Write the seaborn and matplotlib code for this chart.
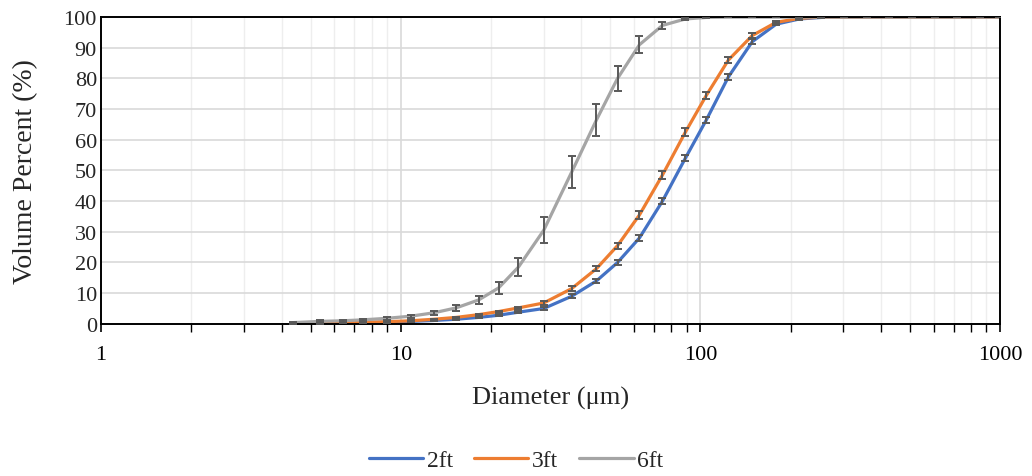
import numpy as np
import pandas as pd
import matplotlib.pyplot as plt
import seaborn as sns
from matplotlib.ticker import LogLocator, NullFormatter, FixedLocator

# ==================================================
# DATA
# ==================================================

diameter = [4.37, 5.37, 6.41, 7.47, 8.98, 10.8, 12.9, 15.3, 18.2, 21.2,
            24.7, 30.0, 37.2, 45.0, 52.9, 62.6, 74.7, 89.1, 104.7, 124,
            149, 179, 214, 253, 302, 360, 427, 509, 607, 719, 858, 993]

vol_2ft = [0.1, 0.15, 0.25, 0.35, 0.5, 0.8, 1.1, 1.5, 2.1, 2.8,
           3.8, 5.0, 9.0, 14.0, 20.0, 28.0, 40.0, 54.0, 66.5, 80.5,
           92.0, 97.7, 99.4, 99.9, 100, 100, 100, 100, 100, 100, 100, 100]
err_2ft = [0.05, 0.05, 0.05, 0.1, 0.1, 0.1, 0.15, 0.2, 0.2, 0.3,
           0.4, 0.5, 0.6, 0.7, 0.8, 0.9, 1.0, 1.0, 1.0, 0.9,
           0.8, 0.4, 0.2, 0.1, 0, 0, 0, 0, 0, 0, 0, 0]

vol_3ft = [0.1, 0.2, 0.3, 0.5, 0.7, 1.0, 1.5, 2.1, 3.0, 4.0,
           5.2, 6.8, 11.5, 18.0, 25.5, 35.5, 48.5, 62.5, 74.5, 86.0,
           94.0, 98.3, 99.6, 100, 100, 100, 100, 100, 100, 100, 100, 100]
err_3ft = [0.05, 0.05, 0.05, 0.1, 0.1, 0.15, 0.2, 0.2, 0.3, 0.3,
           0.4, 0.5, 0.7, 0.8, 1.0, 1.2, 1.4, 1.4, 1.2, 0.9,
           0.7, 0.4, 0.2, 0.1, 0, 0, 0, 0, 0, 0, 0, 0]

vol_6ft = [0.4, 0.8, 1.0, 1.3, 1.8, 2.5, 3.6, 5.2, 7.8, 11.7,
           18.5, 30.5, 49.5, 66.5, 80.0, 91.0, 97.3, 99.4, 99.9, 100,
           100, 100, 100, 100, 100, 100, 100, 100, 100, 100, 100, 100]
err_6ft = [0.3, 0.3, 0.3, 0.3, 0.4, 0.5, 0.6, 1.1, 1.4, 1.9,
           3.0, 4.2, 5.2, 5.2, 4.2, 2.7, 1.1, 0.4, 0.1, 0,
           0, 0, 0, 0, 0, 0, 0, 0, 0, 0, 0, 0]

series_names = ["2ft", "3ft", "6ft"]
colors = ["#4472C4", "#ED7D31", "#A5A5A5"]

df = pd.DataFrame({
    "Diameter": diameter * 3,
    "Volume": vol_2ft + vol_3ft + vol_6ft,
    "Error": err_2ft + err_3ft + err_6ft,
    "Series": [s for s in series_names for _ in diameter],
})

# ==================================================
# PLOT
# ==================================================

sns.set_theme(style="white")
plt.rcParams["font.family"] = ["Liberation Serif", "DejaVu Serif"]

fig = plt.figure(figsize=(10.32, 4.77), dpi=100)
ax = fig.add_axes([0.098, 0.319, 0.871, 0.643])

sns.lineplot(
    data=df,
    x="Diameter",
    y="Volume",
    hue="Series",
    palette=colors,
    linewidth=2.3,
    ax=ax,
    legend=True,
    zorder=2,
)

for name in series_names:
    sub = df[df["Series"] == name]
    ax.errorbar(
        sub["Diameter"],
        sub["Volume"],
        yerr=sub["Error"],
        fmt="none",
        ecolor="#595959",
        elinewidth=1.4,
        capsize=3.2,
        capthick=1.4,
        zorder=3,
    )

ax.set_xscale("log")
ax.set_xlim(1, 1000)
ax.set_ylim(0, 100)
ax.set_yticks(range(0, 101, 10))
ax.xaxis.set_major_locator(FixedLocator([1, 10, 100, 1000]))
ax.set_xticklabels(["1", "10", "100", "1000"])
ax.xaxis.set_minor_locator(LogLocator(base=10, subs=np.arange(2, 10)))
ax.xaxis.set_minor_formatter(NullFormatter())

ax.grid(which="major", axis="both", color="#d9d9d9", linewidth=1.2)
ax.grid(which="minor", axis="x", color="#eeeeee", linewidth=1.0)
ax.set_axisbelow(True)

for side in ["left", "bottom", "top", "right"]:
    ax.spines[side].set_color("black")
    ax.spines[side].set_linewidth(1.4)
    ax.spines[side].set_visible(True)

ax.tick_params(axis="x", which="both", direction="out", bottom=True,
               colors="black", labelsize=16, pad=9)
ax.tick_params(axis="x", which="major", length=6, width=1.2)
ax.tick_params(axis="x", which="minor", length=6, width=1.0)
ax.tick_params(axis="y", left=False, length=0, labelsize=16, pad=3)

ax.set_xlabel("Diameter (\u03bcm)", fontsize=19, labelpad=16)
ax.set_ylabel("Volume Percent (%)", fontsize=20, labelpad=18)

handles, labels = ax.get_legend_handles_labels()
ax.get_legend().remove()
fig.legend(
    handles,
    labels,
    loc="center",
    bbox_to_anchor=(0.5, 0.032),
    ncol=3,
    frameon=False,
    fontsize=17,
    handlelength=2.3,
    handletextpad=0.15,
    columnspacing=0.9,
)

plt.savefig("out.png", dpi=100)
